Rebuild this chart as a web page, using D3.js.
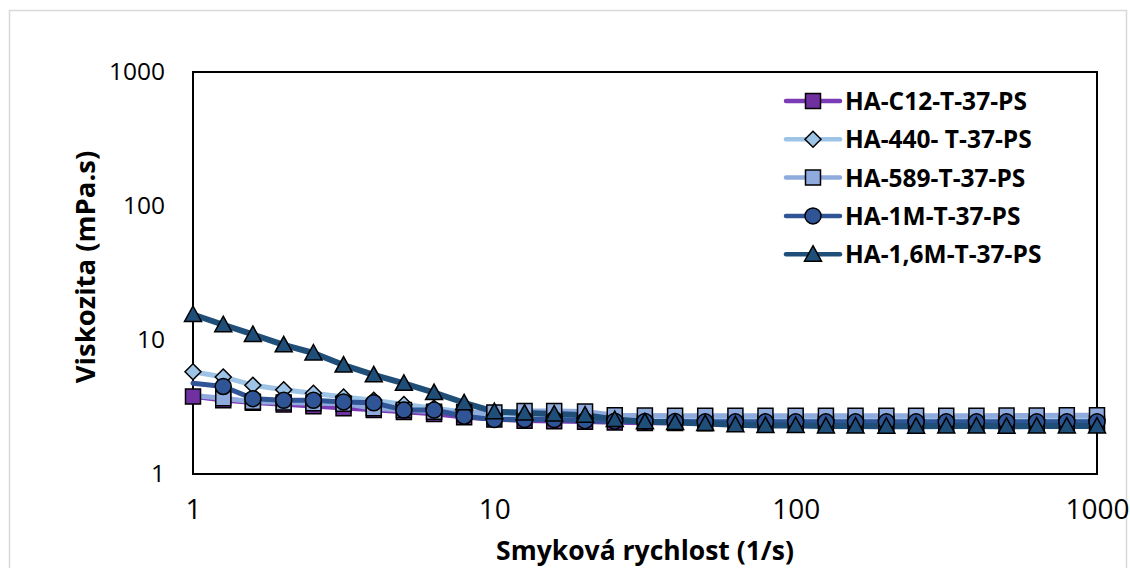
<!DOCTYPE html>
<html><head><meta charset="utf-8">
<script src="https://cdn.jsdelivr.net/npm/d3@7"></script>
<style>
html,body{margin:0;padding:0;background:#fff;}
svg{display:block;}
</style></head>
<body>
<svg id="chart" width="1130" height="568"></svg>
<script>
// ---- data ----
const shearRate = [1, 1.26, 1.58, 2, 2.51, 3.16, 3.98, 5.01, 6.31, 7.94,
  10, 12.6, 15.8, 20, 25.1, 31.6, 39.8, 50.1, 63.1, 79.4,
  100, 126, 158, 200, 251, 316, 398, 501, 631, 794, 1000];

const seriesNames = ["HA-C12-T-37-PS", "HA-440- T-37-PS", "HA-589-T-37-PS", "HA-1M-T-37-PS", "HA-1,6M-T-37-PS"];

const valsC12 = [3.78, 3.55, 3.40, 3.30, 3.20, 3.10, 3.00, 2.90, 2.80, 2.65,
  2.55, 2.50, 2.48, 2.45, 2.42, 2.40, 2.40, 2.39, 2.38, 2.38,
  2.38, 2.38, 2.38, 2.38, 2.38, 2.38, 2.38, 2.38, 2.38, 2.38, 2.38];
const vals440 = [5.80, 5.30, 4.60, 4.25, 4.00, 3.75, 3.55, 3.30, 3.10, 2.90,
  2.75, 2.70, 2.68, 2.62, 2.60, 2.58, 2.57, 2.56, 2.55, 2.55,
  2.55, 2.55, 2.55, 2.55, 2.55, 2.55, 2.55, 2.55, 2.55, 2.55, 2.55];
const vals589 = [3.85, 3.68, 3.46, 3.42, 3.37, 3.35, 3.10, 3.00, 2.92, 2.90,
  2.88, 2.95, 2.95, 2.93, 2.75, 2.73, 2.72, 2.72, 2.72, 2.72,
  2.72, 2.72, 2.72, 2.72, 2.72, 2.72, 2.72, 2.73, 2.73, 2.75, 2.75];
const vals1M = [4.75, 4.50, 3.65, 3.55, 3.55, 3.45, 3.40, 3.00, 3.00, 2.70,
  2.55, 2.55, 2.55, 2.50, 2.48, 2.47, 2.46, 2.45, 2.45, 2.45,
  2.45, 2.45, 2.45, 2.45, 2.45, 2.45, 2.45, 2.45, 2.45, 2.45, 2.45];
const vals16M = [15.5, 13.0, 11.0, 9.20, 8.00, 6.50, 5.50, 4.75, 4.05, 3.40,
  2.92, 2.85, 2.80, 2.75, 2.55, 2.45, 2.42, 2.38, 2.33, 2.30,
  2.30, 2.28, 2.28, 2.27, 2.27, 2.28, 2.28, 2.27, 2.28, 2.28, 2.28];

const xTicks = [1, 10, 100, 1000];
const yTicks = [1, 10, 100, 1000];

// ---- styling ----
const styles = [
  {line: "#7A3BB4", fill: "#7030A0", shape: "square", lw: 4.5, skipFirst: false},
  {line: "#9DC3E6", fill: "#9DC3E6", shape: "diamond", lw: 5, skipFirst: false},
  {line: "#8FAADC", fill: "#8FAADC", shape: "square", lw: 5, skipFirst: true},
  {line: "#2F5597", fill: "#2F5597", shape: "circle", lw: 5, skipFirst: true},
  {line: "#1F4E79", fill: "#1F4E79", shape: "triangle", lw: 6, skipFirst: false}
];
const allVals = [valsC12, vals440, vals589, vals1M, vals16M];

const svg = d3.select("#chart");
// outer border
svg.append("rect").attr("x", 9.5).attr("y", 10.5).attr("width", 1117).attr("height", 600)
  .attr("fill", "none").attr("stroke", "#d9d9d9").attr("stroke-width", 1.5);

const L = 193, R = 1097, T = 72, B = 474;
const x = d3.scaleLog().domain([1, 1000]).range([L, R]);
const y = d3.scaleLog().domain([1, 1000]).range([B, T]);

function markerPath(shape) {
  if (shape === "square") return "M-7.5,-7.5H7.5V7.5H-7.5Z";
  if (shape === "diamond") return "M0,-8L8,0L0,8L-8,0Z";
  if (shape === "circle") return d3.symbol(d3.symbolCircle, Math.PI * 8 * 8)();
  if (shape === "triangle") return "M0,-8.5L8.5,7L-8.5,7Z";
}

// axes
const xAxis = d3.axisBottom(x).tickValues(xTicks).tickFormat(d3.format("d")).tickSize(0).tickPadding(28);
const yAxis = d3.axisLeft(y).tickValues(yTicks).tickFormat(d3.format("d")).tickSize(0).tickPadding(28);
const gx = svg.append("g").attr("transform", `translate(0,${B})`).call(xAxis);
const gy = svg.append("g").attr("transform", `translate(${L},0)`).call(yAxis);
[gx, gy].forEach(g => g.select(".domain").remove());
gy.selectAll("text").attr("font-family", "'Open Sans', sans-serif").attr("font-size", 24.5).attr("fill", "#000");
gx.selectAll("text").attr("font-family", "'Liberation Sans Narrow','Open Sans', sans-serif")
  .attr("font-size", 28).attr("fill", "#000").attr("dy", "0.6em");

// frame
svg.append("rect").attr("x", L).attr("y", T).attr("width", R - L).attr("height", B - T)
  .attr("fill", "none").attr("stroke", "#000").attr("stroke-width", 2);

// lines
const line = d3.line().x(d => x(d[0])).y(d => y(d[1]));
allVals.forEach((vals, i) => {
  const pts = shearRate.map((s, j) => [s, vals[j]]);
  svg.append("path").attr("d", line(pts)).attr("fill", "none")
    .attr("stroke", styles[i].line).attr("stroke-width", styles[i].lw)
    .attr("stroke-linejoin", "round").attr("stroke-linecap", "round");
});
// markers
allVals.forEach((vals, i) => {
  const st = styles[i];
  const pts = shearRate.map((s, j) => [s, vals[j]]).filter((d, j) => !(st.skipFirst && j === 0));
  svg.append("g").selectAll("path").data(pts).join("path")
    .attr("d", markerPath(st.shape))
    .attr("transform", d => `translate(${x(d[0])},${y(d[1])})`)
    .attr("fill", st.fill).attr("stroke", "#000").attr("stroke-width", 1.5);
});

// axis titles
svg.append("text").attr("x", 645).attr("y", 560).attr("text-anchor", "middle")
  .attr("font-family", "'Liberation Sans Narrow','Open Sans', sans-serif").attr("font-weight", "bold").attr("font-size", 26.5)
  .text("Smyková rychlost (1/s)");
svg.append("text").attr("transform", `translate(95,267) rotate(-90)`).attr("text-anchor", "middle")
  .attr("font-family", "'Open Sans', sans-serif").attr("font-weight", "bold").attr("font-size", 27.5)
  .text("Viskozita (mPa.s)");

// legend
const lg = svg.append("g").attr("transform", "translate(786,101)");
seriesNames.forEach((name, i) => {
  const st = styles[i];
  const g = lg.append("g").attr("transform", `translate(0,${i * 38.3})`);
  g.append("line").attr("x1", 0).attr("x2", 54).attr("y1", 0).attr("y2", 0)
    .attr("stroke", st.line).attr("stroke-width", 4.5).attr("stroke-linecap", "round");
  g.append("path").attr("d", markerPath(st.shape)).attr("transform", "translate(27,0)")
    .attr("fill", st.fill).attr("stroke", "#000").attr("stroke-width", 1.5);
  g.append("text").attr("x", 59).attr("y", 9).attr("font-family", "'Open Sans', sans-serif")
    .attr("font-weight", "bold").attr("font-size", 24.5).attr("fill", "#000").text(name);
});
</script>
</body></html>
